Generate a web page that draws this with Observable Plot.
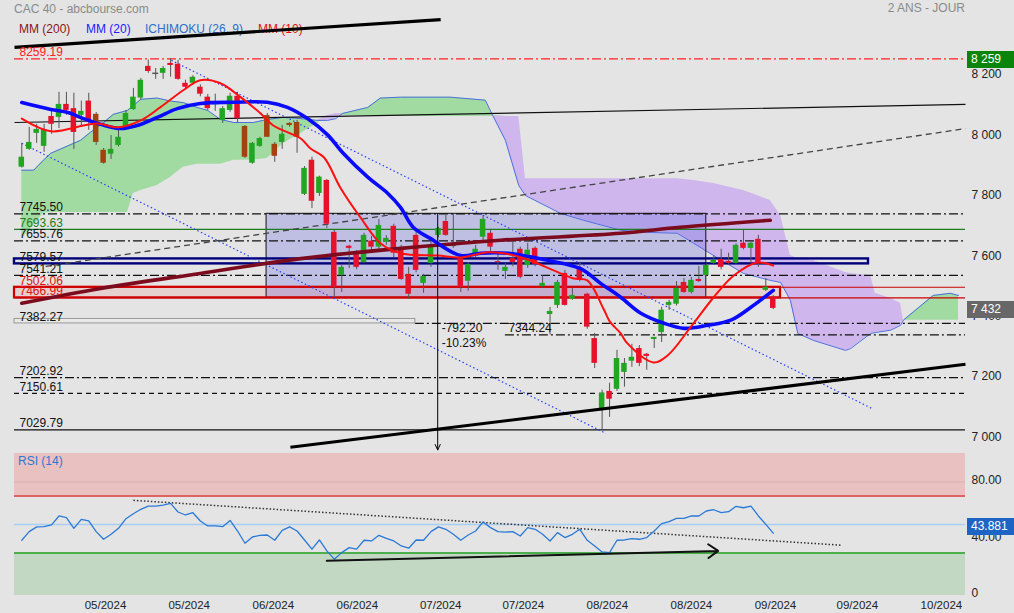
<!DOCTYPE html>
<html><head><meta charset="utf-8">
<script src="https://cdn.jsdelivr.net/npm/d3@7"></script>
<script src="https://cdn.jsdelivr.net/npm/@observablehq/plot@0.6"></script>
<style>
body{margin:0;background:#e4e4e4;}
#wrap{position:relative;width:1014px;height:613px;font-family:"Liberation Sans",Arial,sans-serif;overflow:hidden;background:#e4e4e4;}
.t{position:absolute;white-space:nowrap;font-size:12px;line-height:14px;}
.badge{position:absolute;left:967px;width:47px;height:17px;color:#fff;font-size:12px;line-height:17px;padding-left:4px;box-sizing:border-box;}
svg{position:absolute;left:0;}
</style></head><body><div id="wrap"></div>
<script>
// ---------- DATA (trading-day index, price) ----------
const open = [7900,7959,8012,7969,8068,8065,8108,8094,8072,8119,
8075,7956,7943,7972,8035,8091,8129,8234,8211,8211,
8244,8241,8178,8178,8165,8132,8115,8055,8088,8135,
8035,7913,7969,8071,7976,7982,8045,8048,7810,7923,
7813,7856,7684,7541,7638,7618,7584,7655,7635,7651,
7704,7625,7545,7674,7515,7581,7674,7720,7636,7597,
7522,7612,7668,7681,7587,7555,7597,7628,7574,7631,
7505,7412,7442,7548,7462,7568,7479,7332,7100,7157,
7164,7220,7257,7299,7280,7329,7352,7442,7446,7518,
7485,7528,7541,7581,7594,7588,7581,7648,7631,7661,
7492,7469];
const high = [7979,8032,8042,8042,8085,8148,8148,8145,8119,8145,
8081,7962,8005,8028,8088,8161,8194,8255,8227,8234,
8259.19,8254,8188,8203,8173,8141,8142,8101,8145,8148,
8038,7982,7999,8078,7982,8038,8048,8055,7902,7933,
7870,7859,7691,7574,7641,7623,7681,7671,7727,7673,
7711,7641,7568,7691,7545,7664,7701,7740,7744,7601,
7584,7641,7740,7694,7618,7581,7651,7635,7648,7636,
7541,7435,7525,7558,7498,7585,7482,7349,7161,7184,
7293,7266,7313,7309,7283,7336,7436,7459,7521,7531,
7535,7571,7580,7607,7628,7615,7646,7691,7651,7674,
7531,7475];
const low = [7897,7956,7979,7949,8009,8028,8072,7959,8032,8022,
7972,7910,7926,7967,8032,8088,8123,8211,8191,8191,
8198,8188,8158,8173,8133,8087,8085,8045,8082,8048,
7929,7910,7966,7999,7916,7959,8032,7946,7806,7763,
7803,7697,7469,7485,7564,7560,7580,7621,7626,7641,
7600,7525,7462,7550,7482,7568,7666,7671,7631,7485,
7489,7600,7651,7621,7558,7528,7570,7530,7565,7570,
7500,7344.24,7432,7440,7459,7520,7363,7233,7029.79,7071,
7157,7171,7237,7239,7227,7299,7319,7426,7440,7482,
7480,7518,7538,7575,7560,7575,7578,7626,7581,7568,
7488,7428];
const close = [7933,7982,8025,8025,8042,8108,8088,8015,8085,8048,
7982,7913,7959,7999,8078,8132,8188,8217,8211,8227,
8237,8191,8165,8198,8142,8094,8111,8094,8135,8061,
7933,7979,7995,7999,7936,8009,8038,7999,7896,7787,
7867,7711,7502,7568,7631,7568,7674,7635,7707,7664,
7615,7528,7479,7558,7538,7635,7697,7674,7641,7502,
7578,7628,7727,7635,7584,7568,7584,7535,7625,7578,
7515,7422,7518,7442,7475,7528,7370,7250,7151,7131,
7266,7250,7270,7250,7273,7336,7426,7452,7498,7485,
7525,7521,7574,7591,7568,7581,7641,7631,7648,7584,
7502,7432];
// candle kind: G up, R down, B brown (down), D doji
const kind = ("GGGGRGRRGR"+"BBGGGGGRDG"+"RRRGRRDGGR"+"BGGBBGBBGR"+"GRRGRRGRGG"+
              "RRRRGGGRDR"+"GGGRRGRRGR"+"GGGRGRRRGR"+"GGGRRGGGGR"+"GRGGRRGRGR"+"GR").split("");

const mm20Idx = [0,3.9,6.2,8.3,10.6,13.3,15.5,18.2,20.9,24,28.5,33,35.7,38.4,41.1,43.2,46.5,49.2,50.9,52.6,54.9,59,61.7,65.3,70.7,75.1,77.8,80.5,83.2,86.3,89,92.2,95.3,98,101];
const mm20Val = [8114,8091,8081,8061,8042,8028,8038,8065,8094,8111,8115,8115,8098,8061,8007,7946,7867,7813,7767,7701,7664,7607,7615,7615,7591,7564,7515,7469,7416,7383,7366,7376,7393,7436,7492];
const mm10Idx = [0,3.9,8.3,10.2,12.9,16,18.6,21.7,24,26.7,29.4,32.1,33.8,37.5,38.8,40.6,42.8,45.5,48.2,50.9,55.9,59,62.6,64.7,68,71.5,74.2,76,78.2,79,80.5,81.4,84.9,86.8,89.9,93,95.7,98.9,101];
const mm10Val = [8061,8019,8038,8045,8032,8055,8098,8155,8188,8178,8132,8078,8038,7995,7962,7933,7833,7734,7648,7615,7607,7601,7618,7615,7594,7558,7531,7525,7430,7390,7349,7316,7253,7276,7370,7469,7541,7584,7574];
const mm200Idx = [0,10.6,24,37.5,50.9,64.3,80.5,88.5,100.6];
const mm200Val = [7449,7498,7548,7597,7631,7658,7681,7701,7724];

const cloudIdx = [0,1.6,2.9,3.9,7.9,9.2,11,12.3,14.2,15,16,18.2,20,21.7,23.6,25,26.7,28.5,31.1,33,35.2,37.5,39.7,41.1,42.2,43.1,46.5,48.2,50.9,57.6,62.3,63.3,65,66.8,67.7,72.4,75.5,80.5,84.1,88.1,90.3,93,97,100.6,102,103.3,104.3,106.4,110.7,111.4,114.1,114.7,116.8,118.1,118.5,122.5,124.8,125.9];
const spanA = [7890,7890,7923,7946,7989,8015,8048,8075,8088,8104,8125,8129,8119,8114,8098,8088,8058,8048,8048,8058,8065,8061,8055,8055,8061,8078,8098,8129,8132,8132,8122,8071,7989,7839,7806,7747,7724,7691,7684,7681,7648,7607,7548,7525,7518,7459,7349,7326,7293,7299,7349,7352,7360,7376,7393,7475,7482,7475];
const spanB = [7664,7707,7747,7750,7750,7750,7750,7750,7750,7813,7823,7839,7867,7900,7910,7910,7910,7923,7923,7929,7979,8012,8045,8071,8078,8071,8071,8071,8068,8068,8068,8068,8068,8068,7862,7862,7862,7862,7862,7862,7856,7846,7823,7790,7740,7607,7597,7591,7551,7548,7541,7482,7465,7449,7393,7393,7393,7393];

const levelVals = [8259.19,7745.50,7693.63,7655.76,7579.57,7541.21,7502.06,7466.99,7382.27,7202.92,7150.61,7029.79];
const lowMark = 7344.24;
const boxIdx = [32.9, 92.0];           // rectangle of the range
const navyTop = 7596, grayTop = 7397;
const measureIdx = 55.9;
const measureText = ["-792.20", "-10.23%"];

// trend lines [idx, price] pairs
const trendTop = [[-0.98, 8297], [56.3, 8389]];
const trendBottom = [[36.1, 6972], [126.84, 7247]];
const trendThin = [[-0.98, 8048], [126.84, 8108]];
const trendDashed = [[3.2, 7571], [126.84, 8028]];
const channelLow = [[0, 7979], [78.5, 7018]];
const channelHigh = [[20.1, 8254], [114.3, 7100]];

const priceTicks = [7000, 7200, 7400, 7600, 7800, 8000, 8200];
const lastClose = 7432, athLevel = 8259.19;

const rsi = [38.9,45.0,48.3,48.5,49.7,56.0,54.8,47.3,53.6,52.5,45.0,39.6,43.1,47.3,54.1,57.6,60.7,63.0,63.0,63.7,
64.9,58.8,56.7,58.3,52.5,49.0,49.0,48.5,52.9,45.4,36.8,41.2,42.4,42.6,38.9,45.9,48.3,45.4,39.1,32.6,
39.1,31.4,25.6,30.2,33.7,32.6,38.9,38.4,42.4,40.3,38.4,34.9,33.3,39.1,38.9,45.0,48.3,46.6,43.1,38.9,
42.6,45.4,51.8,47.8,45.0,44.7,45.0,41.9,47.8,46.6,43.1,38.4,44.3,40.8,43.1,46.6,38.9,34.9,30.7,30.2,
38.9,39.1,40.1,39.6,40.8,45.4,50.6,52.0,54.3,54.3,56.0,56.0,59.5,60.4,58.3,59.0,62.8,61.8,63.0,56.0,
50.1,43.881];
const rsiTrend = [[15.0, 67.0], [110.2, 35.4]];
const rsiArrow = [[41.0, 24.4], [93.6, 31.4]];
const rsiTicks = [0, 40, 80];

const xTickIdx = [11.25, 22.5, 33.8, 45.1, 56.3, 67.4, 78.7, 90, 101.3, 112.3, 123.6];
const xTickLab = ["05/2024","05/2024","06/2024","06/2024","07/2024","07/2024","08/2024","08/2024","09/2024","09/2024","10/2024"];

// ---------- BUILD ----------
const X0 = -0.98, X1 = 126.84;
const FONT = '"Liberation Sans", Arial, sans-serif';
const candles = open.map((o, i) => ({i, o, h: high[i], l: low[i], c: close[i], k: kind[i]}));
const bodyCol = {G: "#20a620", R: "#e6122c", B: "#a3420f", D: "#555"};
const pts = (ix, v) => ix.map((x, k) => ({x, y: v[k]}));
const cloud = cloudIdx.map((x, k) => ({x, a: spanA[k], b: spanB[k], hi: Math.max(spanA[k], spanB[k])}));
const seg = (p) => ({x1: p[0][0], y1: p[0][1], x2: p[1][0], y2: p[1][1]});
const DD = "9,3,2,3";
const labelCol = ["#ff2020", "#111", "#1d7d1d", "#111", "#111", "#111", "#e01010", "#e01010", "#111", "#111", "#111", "#111"];

const main = Plot.plot({
  width: 1014, height: 453, marginLeft: 14, marginRight: 49, marginTop: 15, marginBottom: 3,
  x: {domain: [X0, X1], axis: null},
  y: {domain: [6961.2, 8402.6], axis: null},
  color: {type: "identity"},
  style: {background: "transparent", fontFamily: FONT, fontSize: "12px", overflow: "visible"},
  marks: [
    // ichimoku cloud
    Plot.areaY(cloud, {x: "x", y1: "b", y2: "hi", fill: "#a2dba2"}),
    Plot.areaY(cloud, {x: "x", y1: "a", y2: "hi", fill: "#cfb6ec"}),
    Plot.line(cloud, {x: "x", y: "a", stroke: "#4b6fe0", strokeWidth: 1}),
    // range box
    Plot.rect([0], {x1: boxIdx[0], x2: boxIdx[1], y1: levelVals[7], y2: levelVals[1], fill: "#6b6be0", fillOpacity: 0.3, stroke: "#111", strokeWidth: 1}),
    // level lines
    Plot.ruleY([levelVals[0]], {x1: X0, x2: X1, stroke: "#ff2020", strokeWidth: 1.2, strokeDasharray: DD}),
    Plot.ruleY([levelVals[1], levelVals[3], levelVals[5], levelVals[9]], {x1: X0, x2: X1, stroke: "#111", strokeWidth: 1.2, strokeDasharray: DD}),
    Plot.ruleY([levelVals[2]], {x1: X0, x2: X1, stroke: "#1d7d1d", strokeWidth: 1.2}),
    Plot.ruleY([levelVals[6], levelVals[7]], {x1: X0, x2: X1, stroke: "#cc0000", strokeWidth: 1.2}),
    Plot.ruleY([levelVals[8]], {x1: boxIdx[0] + 20, x2: X1, stroke: "#111", strokeWidth: 1.2, strokeDasharray: DD}),
    Plot.ruleY([lowMark], {x1: 65, x2: X1, stroke: "#111", strokeWidth: 1.2, strokeDasharray: DD}),
    Plot.ruleY([levelVals[10]], {x1: X0, x2: X1, stroke: "#111", strokeWidth: 1.2, strokeDasharray: "5,4"}),
    Plot.ruleY([levelVals[11]], {x1: X0, x2: X1, stroke: "#111", strokeWidth: 1.3}),
    Plot.rect([0], {x1: X0, x2: 101.98, y1: levelVals[7], y2: levelVals[6], fill: "#ff0000", fillOpacity: 0.09, stroke: "#d00000", strokeWidth: 2.2}),
    Plot.rect([0], {x1: X0, x2: 113.8, y1: levelVals[4], y2: navyTop, fill: "none", stroke: "#00007a", strokeWidth: 2.4}),
    Plot.rect([0], {x1: X0, x2: boxIdx[0] + 20, y1: levelVals[8], y2: grayTop, fill: "#eeeeee", fillOpacity: 0.4, stroke: "#999", strokeWidth: 1}),
    // trend lines
    Plot.link([seg(channelLow), seg(channelHigh)], {x1: "x1", y1: "y1", x2: "x2", y2: "y2", stroke: "#2a3cff", strokeWidth: 1.2, strokeDasharray: "1.5,2.5"}),
    Plot.link([seg(trendDashed)], {x1: "x1", y1: "y1", x2: "x2", y2: "y2", stroke: "#444", strokeWidth: 1.3, strokeDasharray: "6,4"}),
    Plot.link([seg(trendThin)], {x1: "x1", y1: "y1", x2: "x2", y2: "y2", stroke: "#111", strokeWidth: 1.2}),
    // candles
    Plot.ruleX(candles, {x: "i", y1: "l", y2: "h", stroke: "#555", strokeWidth: 1}),
    Plot.rect(candles.filter(d => d.k !== "D"), {x1: d => d.i - 0.37, x2: d => d.i + 0.37, y1: "o", y2: "c", fill: d => bodyCol[d.k]}),
    Plot.ruleY(candles.filter(d => d.k === "D"), {y: "c", x1: d => d.i - 0.4, x2: d => d.i + 0.4, stroke: "#555", strokeWidth: 1.5}),
    // moving averages
    Plot.line(pts(mm200Idx, mm200Val), {x: "x", y: "y", stroke: "#7c0b1e", strokeWidth: 3.6, curve: "catmull-rom"}),
    Plot.line(pts(mm20Idx, mm20Val), {x: "x", y: "y", stroke: "#0a0aff", strokeWidth: 3.6, curve: "catmull-rom"}),
    Plot.line(pts(mm10Idx, mm10Val), {x: "x", y: "y", stroke: "#ff1010", strokeWidth: 2, curve: "catmull-rom"}),
    // thick trend lines
    Plot.link([seg(trendTop), seg(trendBottom)], {x1: "x1", y1: "y1", x2: "x2", y2: "y2", stroke: "#000", strokeWidth: 3.2}),
    // measure arrow
    Plot.arrow([0], {x1: measureIdx, x2: measureIdx, y1: levelVals[1], y2: 6963, stroke: "#000", strokeWidth: 1, headLength: 9, headAngle: 50}),
    Plot.text(measureText, {x: measureIdx, y: (d, i) => [7365, 7316][i], text: d => d, dx: 4, textAnchor: "start", fill: "#111", fontSize: 12}),
    Plot.text([lowMark], {x: 65, y: d => d, text: d => d.toFixed(2), dx: 3, dy: -7, textAnchor: "start", fill: "#111", fontSize: 12}),
    // level labels
    Plot.text(levelVals, {x: X0, y: d => d, text: d => d.toFixed(2), dx: 5, dy: -6.5, textAnchor: "start", fill: (d, i) => labelCol[i], fontSize: 12}),
    // right axis
    Plot.axisY(priceTicks, {anchor: "right", tickSize: 0, tickPadding: 6, dy: -2, fontSize: 12, fill: "#222",
      tickFormat: d => d3.format(",")(d).replace(",", " ")})
  ]
});

const rsiPlot = Plot.plot({
  width: 1014, height: 160, marginLeft: 14, marginRight: 49, marginTop: 0, marginBottom: 18,
  x: {domain: [X0, X1]},
  y: {domain: [0, 100], axis: null},
  style: {background: "transparent", fontFamily: FONT, fontSize: "12px", overflow: "visible"},
  marks: [
    Plot.rect([0], {x1: X0, x2: X1, y1: 70, y2: 100, fill: "#e9c1c1"}),
    Plot.rect([0], {x1: X0, x2: X1, y1: 0, y2: 30, fill: "#c3d8c3"}),
    Plot.ruleY([80], {x1: X0, x2: X1, stroke: "#d9b0b0", strokeWidth: 1}),
    Plot.ruleY([70], {x1: X0, x2: X1, stroke: "#e06262", strokeWidth: 2}),
    Plot.ruleY([50], {x1: X0, x2: X1, stroke: "#a9cdf2", strokeWidth: 1.5}),
    Plot.ruleY([30], {x1: X0, x2: X1, stroke: "#4cae4c", strokeWidth: 2}),
    Plot.link([seg(rsiTrend)], {x1: "x1", y1: "y1", x2: "x2", y2: "y2", stroke: "#333", strokeWidth: 1.5, strokeDasharray: "1.5,2"}),
    Plot.line(rsi, {x: (d, i) => i, y: d => d, stroke: "#2a79d6", strokeWidth: 1.3}),
    Plot.arrow([seg(rsiArrow)], {x1: "x1", y1: "y1", x2: "x2", y2: "y2", stroke: "#111", strokeWidth: 2, headLength: 9, headAngle: 70}),
    Plot.axisY(rsiTicks, {anchor: "right", tickSize: 0, tickPadding: 6, dy: -2, fontSize: 12, fill: "#222",
      tickFormat: d => d === 0 ? "0" : d.toFixed(2)}),
    Plot.axisX(xTickIdx, {tickSize: 0, tickPadding: 5, fontSize: 11.5, fill: "#222",
      tickFormat: d => xTickLab[xTickIdx.indexOf(d)]})
  ]
});

// ---------- LAYOUT ----------
const wrap = document.getElementById("wrap");
function txt(s, left, top, color, extra) {
  const d = document.createElement("div");
  d.className = "t"; d.textContent = s;
  d.style.left = left + "px"; d.style.top = top + "px"; d.style.color = color;
  if (extra) Object.assign(d.style, extra);
  wrap.appendChild(d);
}
txt("CAC 40 - abcbourse.com", 14, 2, "#8a8a8a");
txt("2 ANS - JOUR", 0, 1, "#8a8a8a", {left: "auto", right: "49px"});
txt("MM (200)", 19, 22, "#8b1414");
txt("MM (20)", 86, 22, "#1c1cff");
txt("ICHIMOKU (26, 9)", 145, 22, "#2e6fce");
txt("MM (10)", 258, 22, "#e81010");

main.style.top = "0px";
rsiPlot.style.top = "453px";
wrap.appendChild(main);
wrap.appendChild(rsiPlot);
txt("RSI (14)", 18, 454, "#2a79d6");

function badge(s, yCenter, bg) {
  const d = document.createElement("div");
  d.className = "badge"; d.textContent = s;
  d.style.top = (yCenter - 8.5) + "px"; d.style.background = bg;
  wrap.appendChild(d);
}
const ys = main.scale("y"), yr = rsiPlot.scale("y");
badge(d3.format(",")(Math.round(athLevel)).replace(",", " "), ys.apply(athLevel) + 1, "#0a840a");
badge(d3.format(",")(lastClose).replace(",", " "), ys.apply(lastClose) + 1.5, "#676767");
badge(rsi[rsi.length - 1].toFixed(3), 453 + yr.apply(rsi[rsi.length - 1]) - 6, "#1e64c4");
</script></body></html>
